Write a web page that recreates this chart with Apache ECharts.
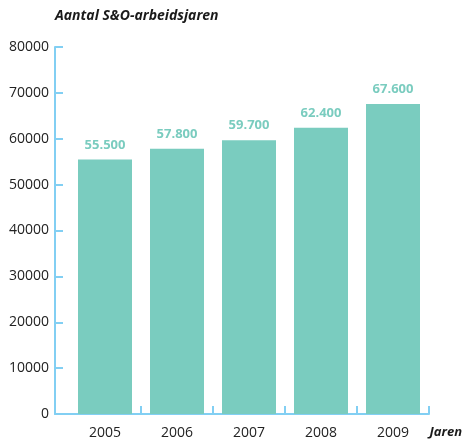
<!DOCTYPE html>
<html>
<head>
<meta charset="utf-8">
<script src="https://cdn.jsdelivr.net/npm/echarts@6/dist/echarts.min.js"></script>
<style>
  html, body { margin: 0; padding: 0; background: #fff; }
  #chart { width: 465px; height: 442px; }
</style>
</head>
<body>
<div id="chart"></div>
<script>
// Aantal S&O-arbeidsjaren per jaar
const years = ['2005', '2006', '2007', '2008', '2009']
const arbeidsjaren = [55500, 57800, 59700, 62400, 67600]
const yTicks = [0, 10000, 20000, 30000, 40000, 50000, 60000, 70000, 80000]

const axisBlue = '#82cff3'
const barGreen = '#7accbf'

const chart = echarts.init(document.getElementById('chart'))
chart.setOption({
  animation: false,
  title: {
    text: 'Aantal S&O-arbeidsjaren',
    left: 50,
    top: 4,
    textStyle: {
      fontFamily: 'Open Sans',
      fontStyle: 'italic',
      fontWeight: 'bold',
      fontSize: 14,
      color: '#1a1a1a'
    }
  },
  grid: [
    // bars
    { left: 69, right: 36, top: 47, bottom: 28 },
    // frame (axis lines start a bit left of the first category)
    { left: 55, right: 36, top: 47, bottom: 28 }
  ],
  xAxis: [{
    gridIndex: 0,
    type: 'category',
    data: years,
    axisLine: { show: true, lineStyle: { color: axisBlue, width: 2 } },
    axisTick: {
      show: true,
      inside: true,
      length: 8,
      interval: (i) => i > 0,
      lineStyle: { color: axisBlue, width: 2 }
    },
    axisLabel: {
      margin: 12,
      fontFamily: 'Open Sans',
      fontSize: 14,
      color: '#222'
    }
  }, {
    gridIndex: 1,
    type: 'value',
    min: 0,
    max: 1,
    name: 'Jaren',
    nameLocation: 'end',
    nameGap: 4,
    nameTextStyle: {
      fontFamily: 'Open Sans',
      fontStyle: 'italic',
      fontWeight: 'bold',
      fontSize: 13,
      color: '#1a1a1a',
      verticalAlign: 'top',
      padding: [12, 0, 0, 0]
    },
    axisLine: { show: true, lineStyle: { color: axisBlue, width: 2 } },
    axisTick: { show: false },
    axisLabel: { show: false },
    splitLine: { show: false }
  }],
  yAxis: [{
    gridIndex: 0,
    type: 'value',
    min: 0,
    max: 80000,
    show: false
  }, {
    gridIndex: 1,
    type: 'value',
    min: yTicks[0],
    max: yTicks[yTicks.length - 1],
    interval: 10000,
    axisLine: { show: true, lineStyle: { color: axisBlue, width: 2 } },
    axisTick: { show: true, inside: true, length: 8, lineStyle: { color: axisBlue, width: 2 } },
    axisLabel: {
      margin: 6,
      fontFamily: 'Open Sans',
      fontSize: 14,
      color: '#222',
      formatter: (v) => String(v)
    },
    splitLine: { show: false }
  }],
  series: [{
    name: 'arbeidsjaren',
    type: 'bar',
    xAxisIndex: 0,
    yAxisIndex: 0,
    data: arbeidsjaren,
    barCategoryGap: '25%',
    itemStyle: { color: barGreen },
    label: {
      show: true,
      position: 'top',
      distance: 8,
      fontFamily: 'Open Sans',
      fontWeight: 'bold',
      fontSize: 13,
      color: barGreen,
      formatter: (p) => p.value.toLocaleString('nl-NL').replace(/,/g, '.')
    }
  }]
})
</script>
</body>
</html>
